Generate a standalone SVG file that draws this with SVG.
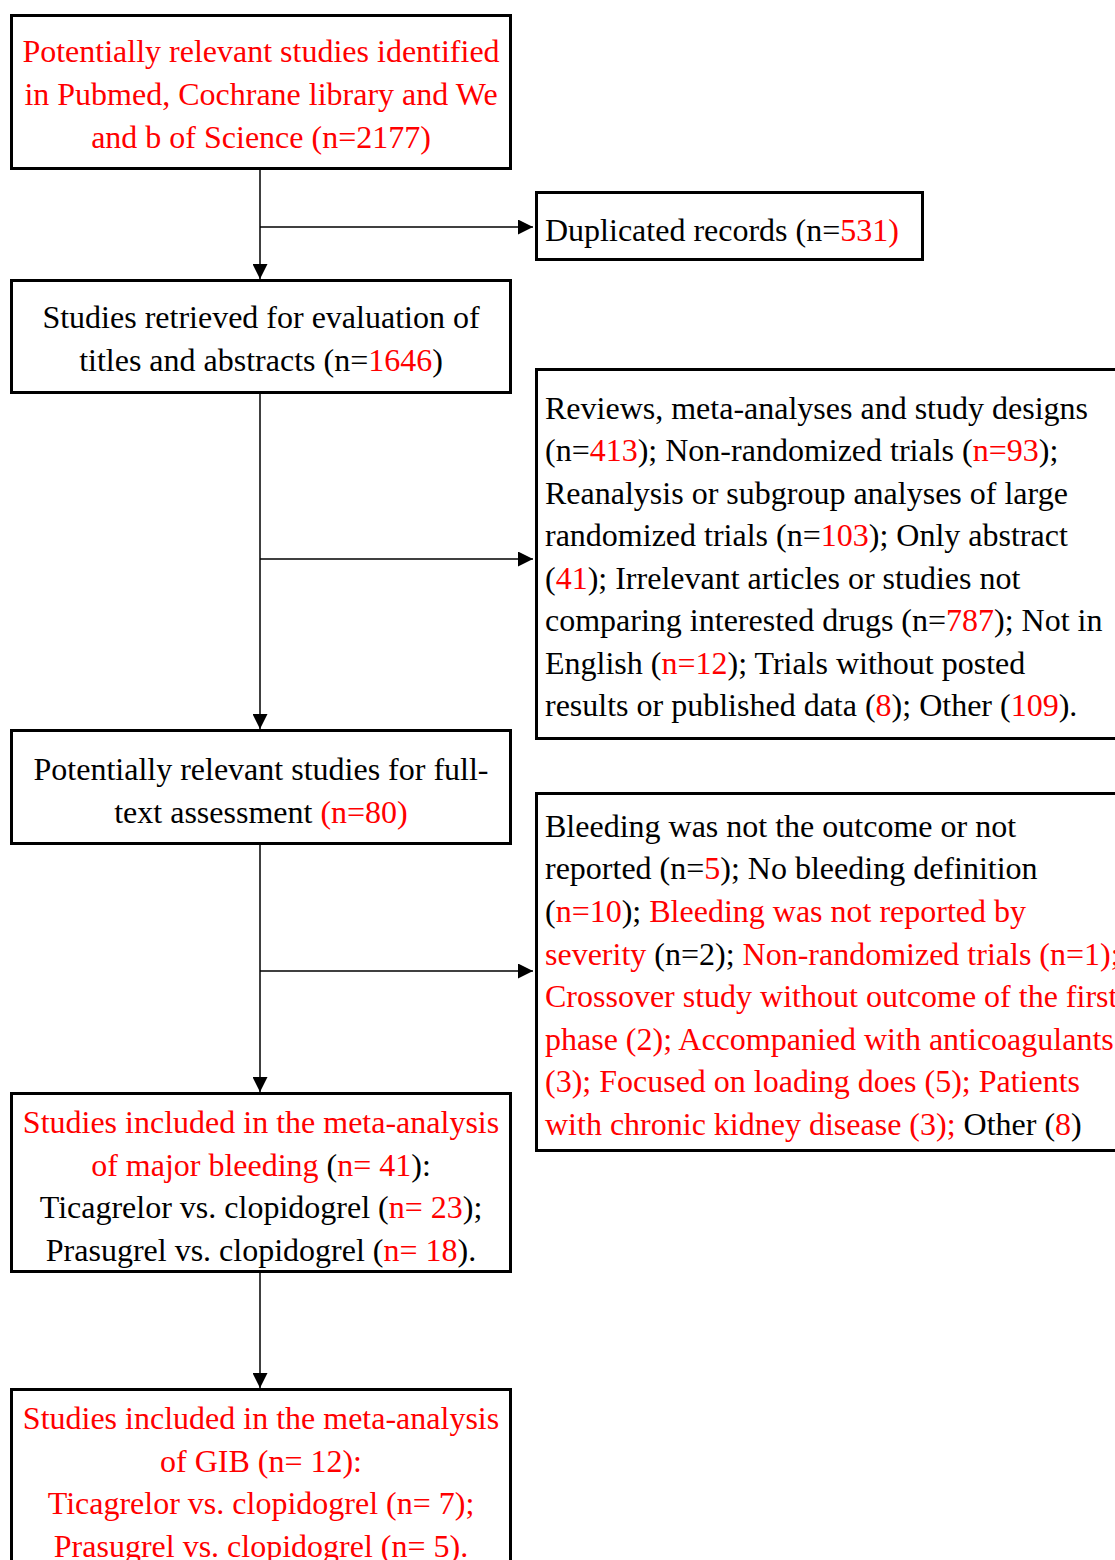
<svg xmlns="http://www.w3.org/2000/svg" width="1115" height="1560" viewBox="0 0 1115 1560">
<style>
.box{fill:#fff;stroke:#000;stroke-width:3}
text{font-family:"Liberation Serif","Times New Roman",serif;font-size:32px;fill:#000}
.c{text-anchor:middle}
.r{fill:#ff0000}
.ln{stroke:#000;stroke-width:1.5;fill:none}
</style>
<defs>
<marker id="a" viewBox="0 0 12 12" refX="12" refY="6" markerWidth="15" markerHeight="15" markerUnits="userSpaceOnUse" orient="auto">
<path d="M0,0 L12,6 L0,12 z" fill="#000"/>
</marker>
</defs>
<rect width="1115" height="1560" fill="#fff"/>
<g id="connectors">
<line class="ln" x1="260" y1="169" x2="260" y2="279" marker-end="url(#a)"/>
<line class="ln" x1="260" y1="227" x2="533" y2="227" marker-end="url(#a)"/>
<line class="ln" x1="260" y1="393" x2="260" y2="729" marker-end="url(#a)"/>
<line class="ln" x1="260" y1="559" x2="533" y2="559" marker-end="url(#a)"/>
<line class="ln" x1="260" y1="844" x2="260" y2="1092" marker-end="url(#a)"/>
<line class="ln" x1="260" y1="971" x2="533" y2="971" marker-end="url(#a)"/>
<line class="ln" x1="260" y1="1272" x2="260" y2="1388" marker-end="url(#a)"/>
</g>
<g id="n1">
<rect class="box" x="11.5" y="15.5" width="499" height="153"/>
<text class="c r" x="261" y="62">Potentially relevant studies identified</text>
<text class="c r" x="261" y="105">in Pubmed, Cochrane library and We</text>
<text class="c r" x="261" y="148">and b of Science (n=2177)</text>
</g>
<g id="n2">
<rect class="box" x="536.5" y="192.5" width="386" height="67"/>
<text x="545" y="241">Duplicated records (n=<tspan class="r">531)</tspan></text>
</g>
<g id="n3">
<rect class="box" x="11.5" y="280.5" width="499" height="112"/>
<text class="c" x="261" y="328">Studies retrieved for evaluation of</text>
<text class="c" x="261" y="371">titles and abstracts (n=<tspan class="r">1646</tspan>)</text>
</g>
<g id="n4">
<rect class="box" x="536.5" y="369.5" width="600" height="369"/>
<text x="545" y="419">Reviews, meta-analyses and study designs</text>
<text x="545" y="461">(n=<tspan class="r">413</tspan>); Non-randomized trials (<tspan class="r">n=93</tspan>);</text>
<text x="545" y="504">Reanalysis or subgroup analyses of large</text>
<text x="545" y="546">randomized trials (n=<tspan class="r">103</tspan>); Only abstract</text>
<text x="545" y="589">(<tspan class="r">41</tspan>); Irrelevant articles or studies not</text>
<text x="545" y="631">comparing interested drugs (n=<tspan class="r">787</tspan>); Not in</text>
<text x="545" y="674">English (<tspan class="r">n=12</tspan>); Trials without posted</text>
<text x="545" y="716">results or published data (<tspan class="r">8</tspan>); Other (<tspan class="r">109</tspan>).</text>
</g>
<g id="n5">
<rect class="box" x="11.5" y="730.5" width="499" height="113"/>
<text class="c" x="261" y="780">Potentially relevant studies for full-</text>
<text class="c" x="261" y="823">text assessment <tspan class="r">(n=80)</tspan></text>
</g>
<g id="n6">
<rect class="box" x="536.5" y="793.5" width="600" height="357"/>
<text x="545" y="837">Bleeding was not the outcome or not</text>
<text x="545" y="879">reported (n=<tspan class="r">5</tspan>); No bleeding definition</text>
<text x="545" y="922">(<tspan class="r">n=10</tspan>); <tspan class="r">Bleeding was not reported by</tspan></text>
<text x="545" y="965"><tspan class="r">severity</tspan> (n=2); <tspan class="r">Non-randomized trials (n=1);</tspan></text>
<text x="545" y="1007" class="r">Crossover study without outcome of the first</text>
<text x="545" y="1050" class="r">phase (2); Accompanied with anticoagulants</text>
<text x="545" y="1092" class="r">(3); Focused on loading does (5); Patients</text>
<text x="545" y="1135"><tspan class="r">with chronic kidney disease (3);</tspan> Other (<tspan class="r">8</tspan>)</text>
</g>
<g id="n7">
<rect class="box" x="11.5" y="1093.5" width="499" height="178"/>
<text class="c r" x="261" y="1133">Studies included in the meta-analysis</text>
<text class="c" x="261" y="1176"><tspan class="r">of major bleeding</tspan> (<tspan class="r">n= 41</tspan>):</text>
<text class="c" x="261" y="1218">Ticagrelor vs. clopidogrel (<tspan class="r">n= 23</tspan>);</text>
<text class="c" x="261" y="1261">Prasugrel vs. clopidogrel (<tspan class="r">n= 18</tspan>).</text>
</g>
<g id="n8">
<rect class="box" x="11.5" y="1389.5" width="499" height="200"/>
<text class="c r" x="261" y="1429">Studies included in the meta-analysis</text>
<text class="c r" x="261" y="1472">of GIB (n= 12):</text>
<text class="c r" x="261" y="1514">Ticagrelor vs. clopidogrel (n= 7);</text>
<text class="c r" x="261" y="1557">Prasugrel vs. clopidogrel (n= 5).</text>
</g>
</svg>
